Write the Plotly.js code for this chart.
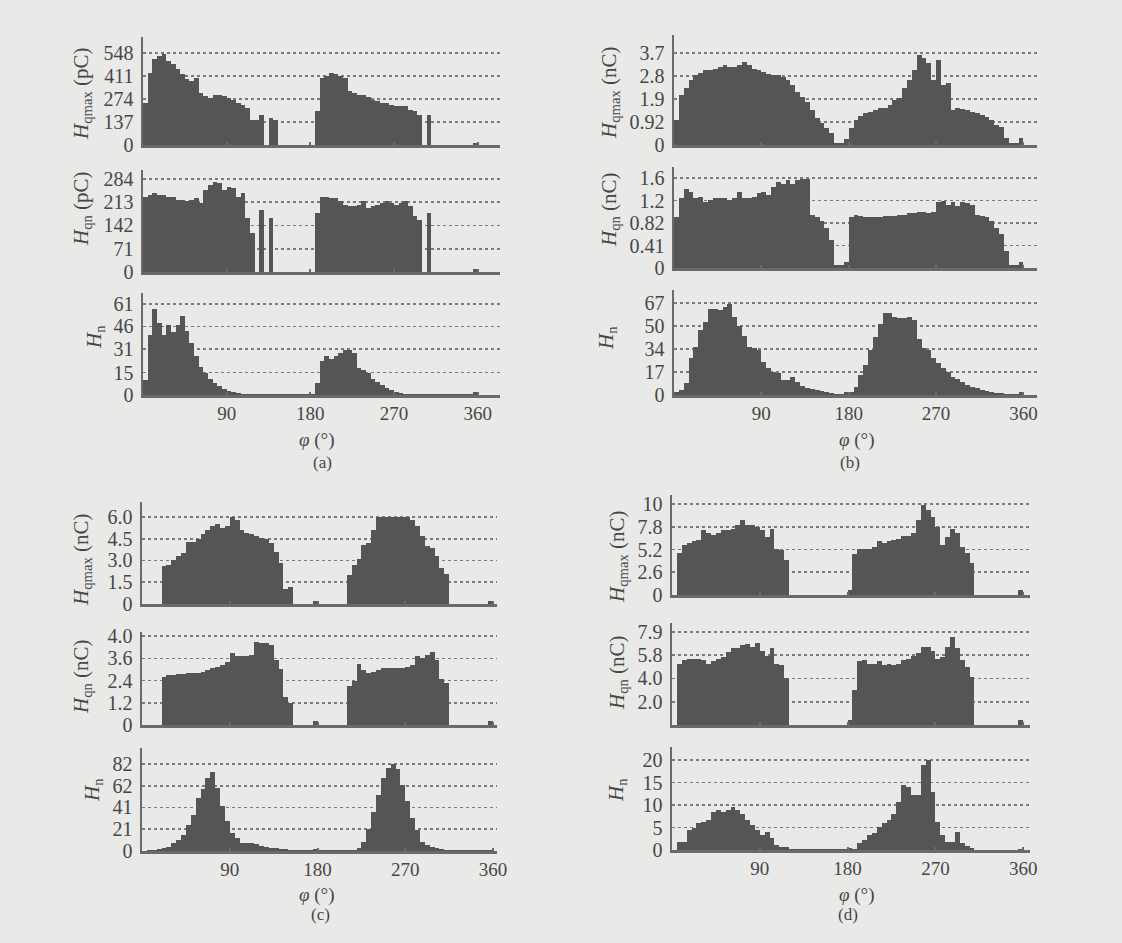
<!DOCTYPE html>
<html><head><meta charset="utf-8">
<script src="https://cdn.plot.ly/plotly-3.0.1.min.js"></script>
<style>html,body{margin:0;padding:0;background:#e9e9e7}</style>
</head><body>
<div id="chart" style="width:1122px;height:943px"></div>
<script>
// phase bin centres (degrees), 5-degree bins
const phi = [2.5,7.5,12.5,17.5,22.5,27.5,32.5,37.5,42.5,47.5,52.5,57.5,62.5,67.5,72.5,77.5,82.5,87.5,92.5,97.5,
102.5,107.5,112.5,117.5,122.5,127.5,132.5,137.5,142.5,147.5,152.5,157.5,162.5,167.5,172.5,177.5,182.5,187.5,192.5,197.5,
202.5,207.5,212.5,217.5,222.5,227.5,232.5,237.5,242.5,247.5,252.5,257.5,262.5,267.5,272.5,277.5,282.5,287.5,292.5,297.5,
302.5,307.5,312.5,317.5,322.5,327.5,332.5,337.5,342.5,347.5,352.5,357.5];

// (a)
const aQmax = [250,430,510,530,540,500,480,450,420,390, 380,400,310,290,280,300,300,290,280,270,
250,240,220,150,150,180,0,160,150,0, 0,0,0,0,0,0,0,200,400,410,
430,420,410,400,320,310,300,300,285,270, 260,250,250,240,230,230,235,210,200,180,
0,180,0,0,0,0,0,0,0,0, 0,10];
const aQn = [230,235,240,235,235,230,230,220,220,215, 220,225,210,250,265,275,270,250,260,255,
230,240,165,120,0,190,0,165,0,0, 0,0,0,0,0,0,0,180,230,230,
225,225,215,205,200,200,205,215,195,200, 205,210,215,210,205,210,215,200,170,160,
0,180,0,0,0,0,0,0,0,0, 0,8];
const aN = [10,40,58,48,40,47,42,47,53,43, 35,26,19,15,11,8,6,4,2.5,2,
1.5,1,1,0.5,0.5,0.5,0.5,0.5,0.5,0.5, 0.5,0.5,0.5,0.5,0.5,1,0.5,8,23,26,
24,26,28,30,30,28,18,17,15,11, 9,7,5,3.5,2,1.5,1,1,0.5,0.5,
0.5,0.5,0.5,0.5,0.5,0.5,0.5,0.5,0.5,0.5, 0.5,2];
// (b)
const bQmax = [1.0,2.0,2.3,2.6,2.8,2.9,3.0,3.0,3.07,3.14, 3.2,3.14,3.14,3.2,3.34,3.2,3.07,3.0,2.94,2.87,
2.8,2.8,2.74,2.6,2.4,2.14,1.94,1.74,1.4,1.07, 0.87,0.7,0.5,0.1,0.1,0.25,0.7,1.0,1.16,1.27,
1.34,1.4,1.5,1.5,1.6,1.8,1.9,2.3,2.6,3.0, 3.6,3.5,3.3,2.6,3.4,2.4,2.5,1.4,1.47,1.45,
1.4,1.34,1.27,1.2,1.13,1.0,0.8,0.73,0.3,0.1, 0.1,0.3];
const bQn = [0.9,1.24,1.4,1.36,1.24,1.27,1.18,1.21,1.24,1.24, 1.24,1.21,1.24,1.35,1.24,1.24,1.27,1.33,1.36,1.3,
1.44,1.53,1.5,1.56,1.5,1.56,1.58,1.58,0.95,0.9, 0.84,0.72,0.5,0.05,0.05,0.1,0.9,0.95,0.92,0.9,
0.9,0.9,0.9,0.92,0.92,0.92,0.95,0.95,0.98,0.98, 1.0,1.0,0.98,1.0,1.18,1.2,1.12,1.18,1.1,1.18,
1.15,1.12,0.95,0.92,0.9,0.84,0.72,0.6,0.3,0.05, 0.05,0.1];
const bN = [2.5,3.6,8.5,27,35,47,53,63,63,62, 64,66,57,50,43,35,34,33,24,19.5,
17,16,11,11,13,9.7,6.6,4.9,4.1,3.6, 2.9,2,1.2,0.8,1,2.5,2.4,6,14.6,22,
33,42.6,52,60,60,57,56,56,57,55, 41,34,33,27,23,19.5,17,13,12,9.7,
7.3,6,4.9,3.6,2.9,2.4,1.7,1.2,1,1, 1,2];
// (c)
const cQmax = [0,0,0,0,2.6,2.7,3.05,3.3,3.5,4.3, 4.3,4.5,4.8,5.1,5.35,5.5,5.25,5.35,6.0,5.8,
5.1,4.9,4.8,4.7,4.55,4.45,4.2,3.6,2.8,1.0, 1.2,0,0,0,0,0.2,0,0,0,0,
0,0,2.0,2.7,3.1,4.1,4.2,5.1,6.0,6.0, 6.0,6.0,6.0,6.0,6.0,5.8,5.35,4.7,4.0,3.85,
3.3,2.5,2.1,0,0,0,0,0,0,0, 0,0.2];
const cQn = [0,0,0,0,2.6,2.7,2.7,2.75,2.75,2.8, 2.8,2.82,2.88,2.97,3.06,3.15,3.24,3.4,3.87,3.7,
3.7,3.7,3.8,4.5,4.4,4.4,4.3,3.5,3.05,1.5, 1.2,0,0,0,0,0.2,0,0,0,0,
0,0,2.1,2.4,3.3,2.97,2.8,2.88,2.97,3.06, 3.1,3.1,3.1,3.06,3.15,3.24,3.7,3.6,3.8,3.96,
3.5,2.5,2.25,0,0,0,0,0,0,0, 0,0.2];
const cN = [0.3,0.5,0.6,1.9,2.5,4.1,7.3,10.4,15,24.6, 34,50,58,69,74,59,42,28,16.7,12,
7.3,7.3,7.3,6.3,5,4.1,3.2,2.5,1.9,1.6, 1.3,0.8,0.8,0.8,0.8,1.5,0.8,0.6,0.6,0.6,
0.6,0.6,0.6,1.3,3.2,8.8,21,37,53,69, 78,82,77,62,47,31,20,8.8,5.7,4.1,
2.5,1.6,0.6,0.6,0.6,0.6,0.6,0.6,0.6,0.6, 0.6,0.6];
// (d)
const dQmax = [0,4.6,5.5,5.7,5.9,6.0,7.1,6.8,6.6,6.8, 7.1,7.1,7.3,7.7,8.2,7.7,7.7,7.5,7.1,6.4,
7.3,5.1,4.9,3.8,0,0,0,0,0,0, 0,0,0,0,0,0,0.5,4.5,5.1,5.1,
5.1,5.3,5.9,5.7,5.9,6.0,6.2,6.5,6.5,6.8, 8.2,9.9,9.3,8.6,7.5,5.5,6.4,7.3,6.8,5.3,
4.6,3.5,0,0,0,0,0,0,0,0, 0,0.5];
const dQn = [0,5.2,5.5,5.6,5.6,5.6,5.5,5.2,5.4,5.6, 5.8,6.2,6.5,6.5,6.8,6.9,6.6,7.0,6.3,5.9,
6.5,5.2,5.1,4.0,0,0,0,0,0,0, 0,0,0,0,0,0,0.4,3.0,5.4,5.5,
5.2,5.2,5.4,5.1,5.2,5.1,5.2,5.5,5.6,5.9, 6.1,6.6,6.6,6.3,5.6,5.8,6.6,7.5,6.5,5.5,
4.9,4.1,0,0,0,0,0,0,0,0, 0,0.4];
const dN = [0,1.7,1.85,4.4,4.8,5.9,6.3,6.7,8.5,8.9, 8.5,8.9,9.6,8.9,8.1,6.7,5.6,4.4,3.3,4.1,
2.6,1.1,0.7,0.7,0.2,0.2,0.2,0.2,0.2,0.2, 0.2,0.2,0.2,0.2,0.2,0.2,0.5,0.3,1.5,2.2,
3.3,3.7,5.2,5.9,6.7,8.1,10.7,14.4,14,12.2, 12.2,18.9,20,13,6.3,3.3,1.85,1.85,4.1,1.5,
1.0,0.4,0.1,0.1,0.1,0.1,0.1,0.1,0.1,0.1, 0.1,0.3];

// tick labels
const xTickVals = [90,180,270,360];
const yTicks = {
  aQmax:{v:[0,137,274,411,548], t:['0','137','274','411','548']},
  aQn:{v:[0,71,142,213,284], t:['0','71','142','213','284']},
  aN:{v:[0,15,31,46,61], t:['0','15','31','46','61']},
  bQmax:{v:[0,0.925,1.85,2.775,3.7], t:['0','0.92','1.9','2.8','3.7']},
  bQn:{v:[0,0.4,0.8,1.2,1.6], t:['0','0.41','0.82','1.2','1.6']},
  bN:{v:[0,16.75,33.5,50.25,67], t:['0','17','34','50','67']},
  cQmax:{v:[0,1.5,3,4.5,6], t:['0','1.5','3.0','4.5','6.0']},
  cQn:{v:[0,1.2,2.4,3.6,4.8], t:['0','1.2','2.4','3.6','4.0']},
  cN:{v:[0,20.5,41,61.5,82], t:['0','21','41','62','82']},
  dQmax:{v:[0,2.5,5,7.5,10], t:['0','2.6','5.2','7.8','10']},
  dQn:{v:[1.975,3.95,5.925,7.9], t:['2.0','4.0','5.8','7.9']},
  dN:{v:[0,5,10,15,20], t:['0','5','10','15','20']}
};

const series = [aQmax,aQn,aN,bQmax,bQn,bN,cQmax,cQn,cN,dQmax,dQn,dN];
const names = ['aQmax','aQn','aN','bQmax','bQn','bN','cQmax','cQn','cN','dQmax','dQn','dN'];
series.forEach((s,i)=>{ if(s.length!==72) throw new Error(names[i]+' length '+s.length); });

const W=1122, H=943;
// layout geometry (pixels)
const xDom = {a:[143,500,384], b:[674,1037,374], c:[142,497,364], d:[672,1030,367]};
const yDom = [
  [37,145,643],[170,272,311],[293,395,68.4],
  [35,145,4.42],[167,268,1.796],[290,395,76.5],
  [502,604,7.03],[632,725,5.02],[748,851,97],
  [495,595,11.0],[623,725,8.66],[747,850,22.9]
];
const panelOf = ['a','a','a','b','b','b','c','c','c','d','d','d'];

const barColor = '#555555';
const txtColor = '#474747';
const fontFam = 'Liberation Serif';

const data = [];
const layout = {
  width:W, height:H, margin:{l:0,r:0,t:0,b:0},
  paper_bgcolor:'#e9e9e7', plot_bgcolor:'rgba(0,0,0,0)',
  showlegend:false, bargap:0,
  font:{family:fontFam, color:txtColor, size:20},
  annotations:[]
};

series.forEach((s,i)=>{
  const n = i+1;
  const xa = 'x'+(n===1?'':n), ya = 'y'+(n===1?'':n);
  data.push({type:'bar', x:phi, y:s, width:5, xaxis:xa, yaxis:ya,
    marker:{color:barColor, line:{width:0}}, hoverinfo:'skip'});
  const p = panelOf[i];
  const xd = xDom[p];
  const yd = yDom[i];
  const bottomRow = (i%3===2);
  layout['xaxis'+(n===1?'':n)] = {
    domain:[xd[0]/W, xd[1]/W], range:[0, xd[2]], anchor:ya,
    showline:true, linecolor:'#6a6a6a', linewidth:2.5,
    tickmode:'array', tickvals:xTickVals, ticktext:xTickVals.map(String),
    ticks:'inside', ticklen:3, tickwidth:2, tickcolor:'#6a6a6a',
    showticklabels:bottomRow, showgrid:false, zeroline:false,
    tickfont:{size:19, family:fontFam, color:txtColor}, fixedrange:true
  };
  const tk = yTicks[names[i]];
  layout['yaxis'+(n===1?'':n)] = {
    domain:[1-yd[1]/H, 1-yd[0]/H], range:[0, yd[2]], anchor:xa,
    showline:true, linecolor:'#6a6a6a', linewidth:2.5,
    tickmode:'array', tickvals:tk.v, ticktext:tk.t, ticks:'', ticklabelstandoff:3,
    showgrid:true, gridcolor:'#7a7a7a', gridwidth:1.6, griddash:'dot',
    zeroline:false, tickfont:{size:20, family:fontFam, color:txtColor}, fixedrange:true
  };
});

// axis titles and panel labels
const yTitles = [
  ['<i>H</i><sub>qmax</sub> (pC)',82,94],
  ['<i>H</i><sub>qn</sub> (pC)',82,209],
  ['<i>H</i><sub>n</sub>',95,337],
  ['<i>H</i><sub>qmax</sub> (nC)',610,93],
  ['<i>H</i><sub>qn</sub> (nC)',610,210],
  ['<i>H</i><sub>n</sub>',607,338],
  ['<i>H</i><sub>qmax</sub> (nC)',82,560],
  ['<i>H</i><sub>qn</sub> (nC)',82,677],
  ['<i>H</i><sub>n</sub>',93,790],
  ['<i>H</i><sub>qmax</sub> (nC)',618,557],
  ['<i>H</i><sub>qn</sub> (nC)',618,673],
  ['<i>H</i><sub>n</sub>',617,790]
];
yTitles.forEach(t=>{
  layout.annotations.push({text:t[0], x:t[1]/W, y:1-t[2]/H, xref:'paper', yref:'paper',
    xanchor:'center', yanchor:'middle', textangle:-90, showarrow:false,
    font:{size:21, family:fontFam, color:txtColor}});
});
const xTitles = [[317,440],[857,440],[317,895],[857,895]];
xTitles.forEach(t=>{
  layout.annotations.push({text:'<i>φ</i> (°)', x:t[0]/W, y:1-t[1]/H, xref:'paper', yref:'paper',
    xanchor:'center', yanchor:'middle', showarrow:false, font:{size:19, family:fontFam, color:txtColor}});
});
const panelLabels = [['(a)',322,463],['(b)',850,463],['(c)',320,914],['(d)',848,914]];
panelLabels.forEach(t=>{
  layout.annotations.push({text:t[0], x:t[1]/W, y:1-t[2]/H, xref:'paper', yref:'paper',
    xanchor:'center', yanchor:'middle', showarrow:false, font:{size:17, family:fontFam, color:txtColor}});
});

Plotly.newPlot('chart', data, layout, {staticPlot:true, displayModeBar:false});
</script>
</body></html>
